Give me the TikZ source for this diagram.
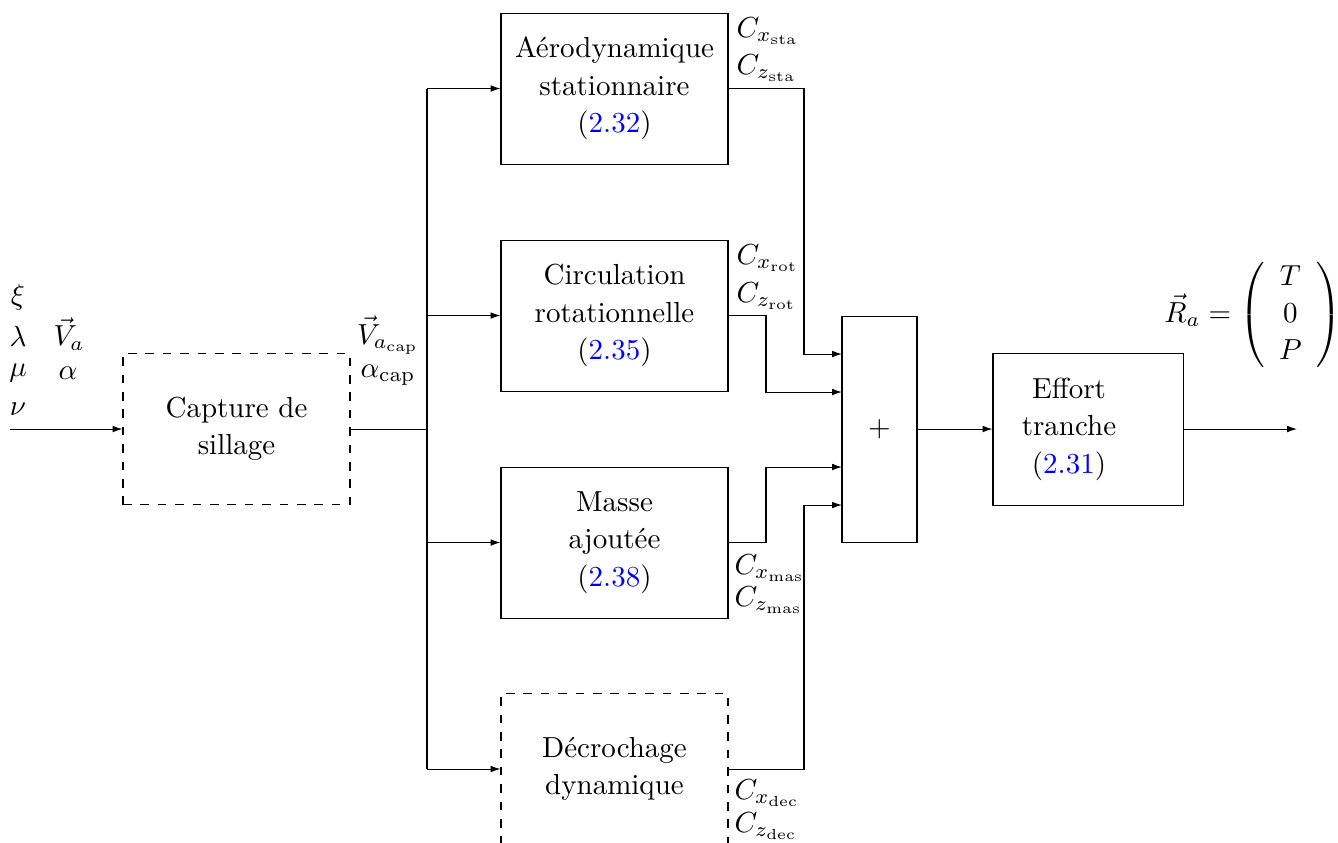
\documentclass[tikz,border=0pt]{standalone}
\usepackage{amsmath}
\usetikzlibrary{calc,arrows.meta}
\definecolor{refblue}{RGB}{0,0,255}
\newcommand{\eqr}[1]{(\textcolor{refblue}{#1})}
\begin{document}
\begin{tikzpicture}[x=0.345pt,y=-0.345pt, line width=0.35pt,
  blk/.style={draw, minimum width={227*0.345pt}, minimum height={151*0.345pt}, align=center, inner sep=0pt, font=\fontsize{10}{12.9}\selectfont},
  dblk/.style={blk, dashed},
  lab/.style={inner sep=0pt, anchor=west},
  sym/.style={inner sep=0pt},
  arr/.style={-{Latex[length=3.4pt,width=2.3pt]}}]
\useasboundingbox (0,0) rectangle (1338,842);
% blocks
\node[dblk] (cap) at (236.5,429) {Capture de\\sillage};
\node[blk] (aero) at (614.5,88.5) {A\'erodynamique\\stationnaire\\\eqr{2.32}};
\node[blk] (circ) at (614.5,315.5) {Circulation\\rotationnelle\\\eqr{2.35}};
\node[blk] (masse) at (614.5,542.5) {Masse\\ajout\'ee\\\eqr{2.38}};
\node[dblk] (dec) at (614.5,769) {D\'ecrochage\\dynamique};
\node[draw, minimum width={75*0.345pt}, minimum height={226*0.345pt}, inner sep=0pt] (sum) at (879.5,429) {$+$};
\node[draw, minimum width={190*0.345pt}, minimum height={152*0.345pt}, inner sep=0pt] (eff) at (1088,429) {};
\node[align=center, inner sep=0pt, font=\fontsize{10}{12.9}\selectfont] (efft) at (1069,429) {Effort\\tranche\\\eqr{2.31}};
% coordinates
\coordinate (in) at (10,429);
\coordinate (bus) at (427,429);
\coordinate (out) at (1297,429);
\coordinate (s1) at (842,354);
\coordinate (s2) at (842,392);
\coordinate (s3) at (842,467);
\coordinate (s4) at (842,505);
\coordinate (k1) at (804,354);
\coordinate (k2) at (766,392);
\coordinate (k3) at (766,467);
\coordinate (k4) at (804,505);
% inputs
\draw[arr] (in) -- (cap.west);
\draw (cap.east) -- (bus);
\draw (aero.west -| bus) -- (dec.west -| bus);
\draw[arr] (aero.west -| bus) -- (aero.west);
\draw[arr] (circ.west -| bus) -- (circ.west);
\draw[arr] (masse.west -| bus) -- (masse.west);
\draw[arr] (dec.west -| bus) -- (dec.west);
% outputs to sum
\draw[arr] (aero.east) -| (k1) -- (s1);
\draw[arr] (circ.east) -| (k2) -- (s2);
\draw[arr] (masse.east) -| (k3) -- (s3);
\draw[arr] (dec.east) -| (k4) -- (s4);
\draw[arr] (sum.east) -- (eff.west);
\draw[arr] (eff.east) -- (out);
% labels
\node[sym] (xi) at (18,297) {$\xi$};
\node[sym] (la) at (18,336) {$\lambda$};
\node[sym] (mu) at (18,373) {$\mu$};
\node[sym] (nu) at (18,409) {$\nu$};
\node[sym] (va) at (69,334) {$\vec{V}_a$};
\node[sym] (al) at (68,373) {$\alpha$};
\node[sym] (vcap) at (388,335) {$\vec{V}_{a_{\mathrm{cap}}}$};
\node[sym] (acap) at (388,375) {$\alpha_{\mathrm{cap}}$};
\node[lab] (cxs) at (736,31) {$C_{x_{\mathrm{sta}}}$};
\node[lab] (czs) at (736,68) {$C_{z_{\mathrm{sta}}}$};
\node[lab] (cxr) at (736,258) {$C_{x_{\mathrm{rot}}}$};
\node[lab] (czr) at (736,296) {$C_{z_{\mathrm{rot}}}$};
\node[lab] (cxm) at (734,568) {$C_{x_{\mathrm{mas}}}$};
\node[lab] (czm) at (734,600) {$C_{z_{\mathrm{mas}}}$};
\node[lab] (cxd) at (734,793) {$C_{x_{\mathrm{dec}}}$};
\node[lab] (czd) at (734,826) {$C_{z_{\mathrm{dec}}}$};
\node[sym] (ra) at (1253,315) {\renewcommand{\arraystretch}{1.07}$\vec{R}_a = \left(\begin{array}{c} T\\ 0\\ P\end{array}\right)$};
\end{tikzpicture}
\end{document}
